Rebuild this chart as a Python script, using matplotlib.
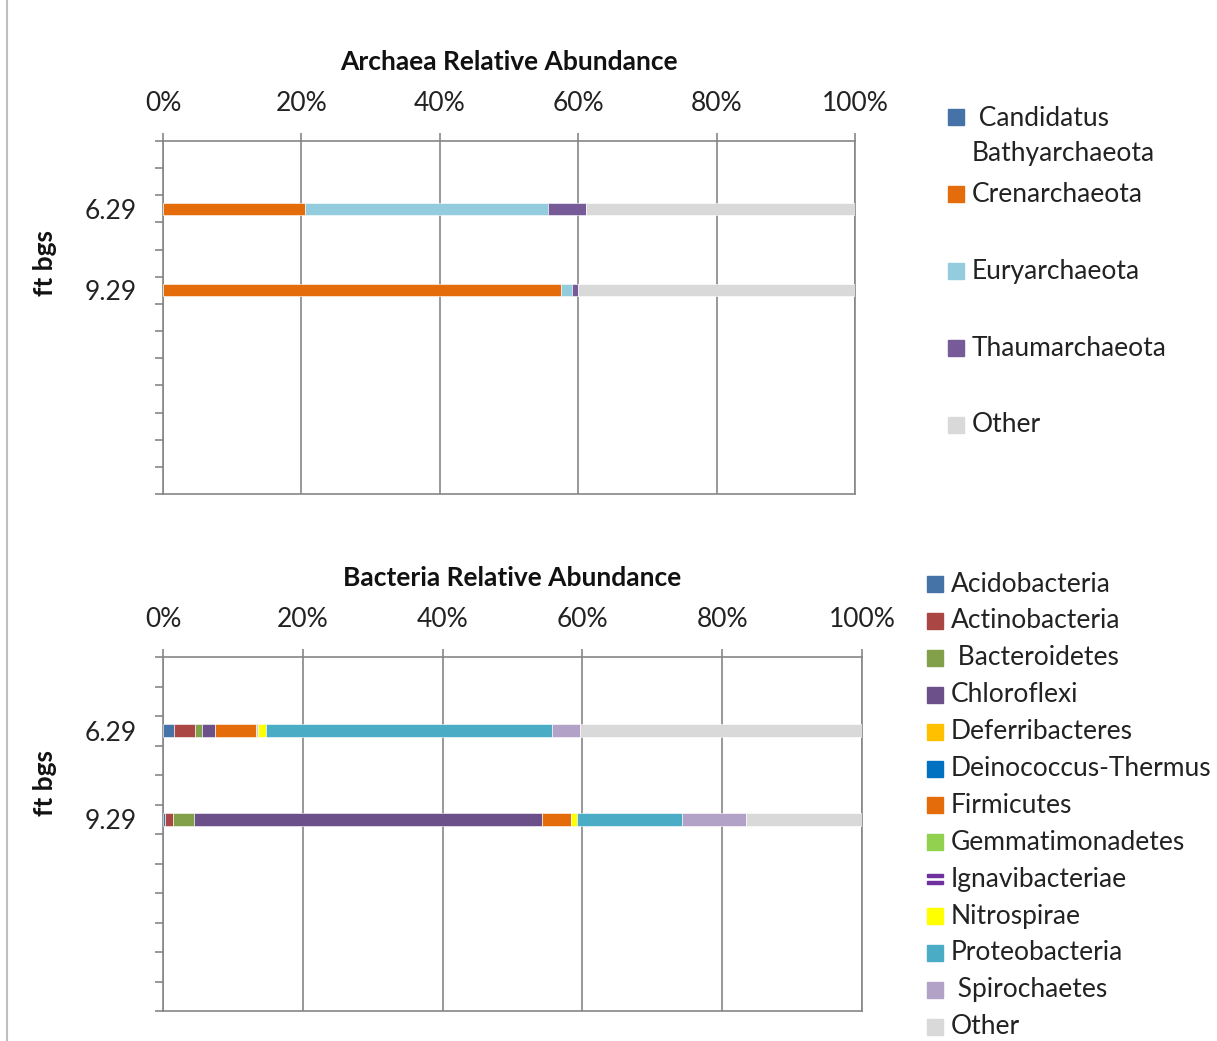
import matplotlib
matplotlib.use("Agg")
import matplotlib.pyplot as plt
from matplotlib.patches import Rectangle
from matplotlib.lines import Line2D
import numpy as np

plt.rcParams['font.family'] = ['Lato', 'DejaVu Sans']

# ---------------- data ----------------
arch_depth_labels = ["", "", "6.29", "", "", "9.29", "", "", "", "", "", "", ""]
bact_depth_labels = ["", "", "6.29", "", "", "9.29", "", "", "", "", "", ""]
sample_index = [2, 5]  # positions of 6.29 and 9.29 in the category axis

arch_names = [" Candidatus\nBathyarchaeota", "Crenarchaeota", "Euryarchaeota",
              "Thaumarchaeota", "Other"]
arch_colors = ["#4572A7", "#E46C0A", "#93CDDD", "#775A98", "#D9D9D9"]
arch_candidatus = [0.0, 0.0]
arch_cren = [20.5, 57.5]
arch_eury = [35.2, 1.6]
arch_thaum = [5.4, 0.8]
arch_other = [38.9, 40.1]
arch_values = [arch_candidatus, arch_cren, arch_eury, arch_thaum, arch_other]

bact_names = ["Acidobacteria", "Actinobacteria", " Bacteroidetes", "Chloroflexi",
              "Deferribacteres", "Deinococcus-Thermus", "Firmicutes",
              "Gemmatimonadetes", "Ignavibacteriae", "Nitrospirae",
              "Proteobacteria", " Spirochaetes", "Other"]
bact_colors = ["#4572A7", "#AA4643", "#82A04A", "#6B5089", "#FFC000", "#0070C0",
               "#E46C0A", "#92D050", "#7030A0", "#FFFF00", "#4BACC6", "#B3A2C7",
               "#D9D9D9"]
bact_acido = [1.6, 0.3]
bact_actino = [3.0, 1.2]
bact_bacter = [1.0, 3.0]
bact_chloro = [1.8, 49.7]
bact_deferri = [0.0, 0.0]
bact_deino = [0.1, 0.0]
bact_firmi = [5.8, 4.2]
bact_gemma = [0.1, 0.0]
bact_ignavi = [0.2, 0.0]
bact_nitro = [1.1, 0.8]
bact_proteo = [40.9, 15.1]
bact_spiro = [4.1, 9.1]
bact_other = [40.3, 16.6]
bact_values = [bact_acido, bact_actino, bact_bacter, bact_chloro, bact_deferri,
               bact_deino, bact_firmi, bact_gemma, bact_ignavi, bact_nitro,
               bact_proteo, bact_spiro, bact_other]

xticks = [0, 20, 40, 60, 80, 100]
xtick_labels = ["0%", "20%", "40%", "60%", "80%", "100%"]

W, H = 1217, 1041
fig = plt.figure(figsize=(W / 100, H / 100), dpi=100)

GRID = "#868686"
TXT = "#222222"
FS = 19


def px_axes(l, r, t, b):
    return fig.add_axes([l / W, 1 - b / H, (r - l) / W, (b - t) / H])


def style(ax, title, labels):
    n = len(labels)
    ax.set_xlim(0, 100)
    ax.set_ylim(n, 0)
    ax.xaxis.tick_top()
    ax.set_xticks(xticks)
    ax.set_xticklabels(xtick_labels, fontsize=FS, color=TXT)
    ax.tick_params(axis="x", which="major", length=6, width=1.2, color=GRID, pad=12)
    ax.set_yticks(np.arange(0, n + 1))
    ax.set_yticklabels([])
    ax.tick_params(axis="y", which="major", length=6, width=1.2, color=GRID)
    ax.set_yticks(np.arange(n) + 0.5, minor=True)
    ax.set_yticklabels(labels, minor=True, fontsize=FS, color=TXT)
    ax.tick_params(axis="y", which="minor", length=0, pad=19)
    ax.grid(axis="x", color=GRID, linewidth=1.2)
    ax.set_axisbelow(True)
    for sp in ax.spines.values():
        sp.set_color(GRID)
        sp.set_linewidth(1.2)
    ax.set_title(title, fontsize=FS, fontweight="bold", pad=51, color="#111111")
    ax.set_ylabel("ft bgs", fontsize=FS, fontweight="bold", color="#111111")


def stack(ax, names, colors, values):
    y = np.array(sample_index) + 0.5
    left = np.zeros(len(sample_index))
    for name, c, v in zip(names, colors, values):
        v = np.array(v)
        ax.barh(y, v, left=left, height=0.45, color=c, edgecolor="white",
                linewidth=0.4, zorder=3)
        left += v


ax1 = px_axes(163, 855, 141, 494)
style(ax1, "Archaea Relative Abundance", arch_depth_labels)
stack(ax1, arch_names, arch_colors, arch_values)
ax1.yaxis.set_label_coords(-0.153, 0.655)

ax2 = px_axes(163, 862, 657, 1011)
style(ax2, "Bacteria Relative Abundance", bact_depth_labels)
stack(ax2, bact_names, bact_colors, bact_values)
ax2.yaxis.set_label_coords(-0.152, 0.644)


# ---------------- legends (manual, Excel-like) ----------------
PS = 16


def legend_entry(x_patch, x_text, y, color, label, double=False):
    if double:
        fig.add_artist(Rectangle((x_patch / W, 1 - (y - 2) / H), PS / W, 3 / H,
                                 color=color, transform=fig.transFigure))
        fig.add_artist(Rectangle((x_patch / W, 1 - (y + 5) / H), PS / W, 3 / H,
                                 color=color, transform=fig.transFigure))
    else:
        fig.add_artist(Rectangle((x_patch / W, 1 - (y + PS / 2) / H), PS / W, PS / H,
                                 color=color, transform=fig.transFigure))
    fig.text(x_text / W, 1 - y / H, label, fontsize=FS, va="center", ha="left",
             color=TXT)


arch_y = [117, 194, 271, 348, 425]
for i, (name, c) in enumerate(zip(arch_names, arch_colors)):
    yy = arch_y[i]
    if i == 0:
        fig.add_artist(Rectangle((948 / W, 1 - (yy + PS / 2) / H), PS / W, PS / H,
                                 color=c, transform=fig.transFigure))
        fig.text(972 / W, 1 - (yy - 11) / H, name, fontsize=FS, va="top", ha="left",
                 color=TXT, linespacing=1.5)
    else:
        legend_entry(948, 972, yy, c, name)

for i, (name, c) in enumerate(zip(bact_names, bact_colors)):
    yy = 584 + 36.9 * i
    legend_entry(927, 951, yy, c, name, double=(name == "Ignavibacteriae"))

fig.add_artist(Line2D([7 / W, 7 / W], [0, 1], color="#BFBFBF", linewidth=1.5,
                      transform=fig.transFigure))

fig.savefig("out.png", dpi=100, facecolor="white")
